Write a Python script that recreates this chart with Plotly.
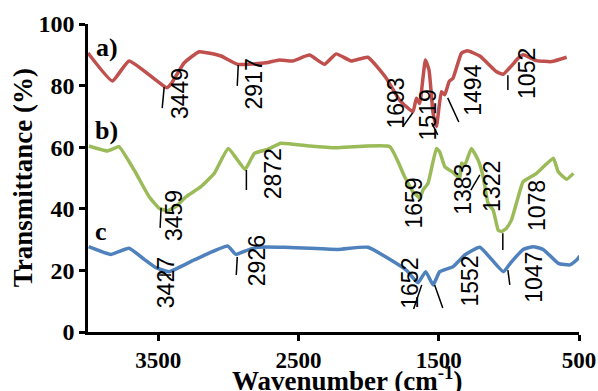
import plotly.graph_objects as go

# ---- data ----
wn_a = [4000, 3826, 3707, 3438, 3405, 3314, 3207, 3052, 2933, 2731, 2636, 2541, 2421, 2314, 2231, 2124, 2005,
        1874, 1779, 1684, 1659, 1636, 1595, 1569, 1540, 1516, 1481, 1457, 1426, 1398, 1338, 1295, 1207, 1088,
        1040, 933, 898, 802, 695, 588]
tr_a = [90.6, 81.5, 88, 79.3, 80.7, 87.4, 91, 89.6, 86.9, 87.4, 88.3, 88, 89.9, 86.9, 90.3, 88, 89.2,
        82.4, 75.3, 71.5, 75.9, 74.2, 88.3, 85, 71, 66.7, 78, 77, 81.3, 82.4, 90.5, 91.3, 89.6, 84.5,
        83.7, 88.9, 90, 88.1, 87.8, 89.2]

wn_b = [3993, 3862, 3814, 3779, 3671, 3564, 3493, 3434, 3374, 3302, 3195, 3100, 3000, 2881, 2814, 2719, 2624,
        2421, 2231, 1850, 1743, 1684, 1659, 1636, 1612, 1576, 1516, 1493, 1457, 1398, 1350, 1338, 1314, 1267,
        1219, 1183, 1148, 1112, 1076, 1052, 1017, 981, 933, 898, 802, 683, 648, 588, 540]
tr_b = [60.4, 58.8, 59.6, 60.2, 52.6, 43.9, 40.2, 39.4, 40.7, 43.9, 47.2, 51.5, 59.6, 52.8, 58, 59.3, 61.3,
        60.4, 59.8, 60.2, 50.4, 45.5, 44.5, 43.4, 46.1, 48.3, 59.6, 58.5, 53.7, 51.8, 49.9, 54.8, 54.2, 59.6,
        55.8, 50.4, 41.8, 39.6, 33.1, 32.6, 33.7, 36.4, 43.9, 48.8, 51.5, 56.4, 52, 49.6, 51.5]

wn_c = [3995, 3838, 3707, 3600, 3516, 3421, 3243, 3005, 2945, 2862, 2791, 2600, 2219, 2005, 1731, 1648, 1593,
        1540, 1493, 1398, 1314, 1207, 1040, 981, 898, 826, 755, 648, 564, 517, 495]
tr_c = [27.7, 25.2, 27.2, 23.6, 20.9, 19.6, 23.4, 27.9, 25.2, 26.6, 27.5, 27.5, 26.8, 27.5, 20.1, 16, 19.6,
        15.3, 19.6, 21.2, 25, 27.5, 19.6, 22.8, 26.8, 27.7, 26.8, 22.3, 21.8, 23.4, 24.7]

# peak labels: text, label centre (wavenumber, T)
peak_text = ["3449", "2917", "1693", "1519", "1494", "1052",
             "3459", "2872", "1659", "1383", "1322", "1078",
             "3427", "2926", "1652", "1552", "1047"]
peak_x = [3343, 2814, 1807, 1579, 1257, 871,
          3386, 2679, 1679, 1329, 1121, 800,
          3443, 2793, 1707, 1279, 821]
peak_y = [77.3, 80.5, 74.4, 70.5, 78.6, 84.1,
          37.7, 51.3, 41.9, 46.4, 47.4, 41.2,
          15.9, 23.1, 15.9, 16.6, 17.9]

# leader lines (start wn, start T, end wn, end T)
lead_x0 = [3457, 2929, 1686, 1550, 1436, 1007, 3479, 2871, 1271, 1043, 3493, 2936, 1621, 1529, 1007]
lead_y0 = [79.5, 86.7, 71.1, 67.9, 76.0, 83.4, 40.3, 52.6, 46.1, 32.1, 18.5, 24.4, 15.3, 15.3, 20.1]
lead_x1 = [3471, 2936, 1757, 1507, 1357, 1007, 3486, 2871, 1207, 1043, 3407, 2943, 1679, 1471, 993]
lead_y1 = [72.7, 79.9, 66.6, 64.0, 68.2, 78.6, 33.8, 46.1, 51.0, 26.6, 18.5, 18.5, 7.5, 7.8, 15.3]

panel_text = ["a)", "b)", "c"]
panel_x = [3868, 3868, 3907]
panel_y = [92.5, 65.3, 32.6]

x_ticks = [3500, 2500, 1500, 500]
y_ticks = [0, 20, 40, 60, 80, 100]

colors = ["#C0504D", "#9BBB59", "#4F81BD"]

fig = go.Figure()
for wn, tr, col in [(wn_a, tr_a, colors[0]), (wn_b, tr_b, colors[1]), (wn_c, tr_c, colors[2])]:
    fig.add_trace(go.Scatter(x=wn, y=tr, mode="lines",
                             line=dict(color=col, width=3.5, shape="spline", smoothing=0.4),
                             showlegend=False, hoverinfo="skip"))

lx, ly = [], []
for a, b, c, d in zip(lead_x0, lead_y0, lead_x1, lead_y1):
    lx += [a, c, None]
    ly += [b, d, None]
fig.add_trace(go.Scatter(x=lx, y=ly, mode="lines", line=dict(color="black", width=1.5),
                         showlegend=False, hoverinfo="skip"))

for t, x, y in zip(peak_text, peak_x, peak_y):
    fig.add_annotation(x=x, y=y, xref="x", yref="y", text=t, showarrow=False, textangle=-90,
                       xanchor="center", yanchor="middle",
                       font=dict(family="Liberation Sans", size=23, color="black"))

for t, x, y in zip(panel_text, panel_x, panel_y):
    fig.add_annotation(x=x, y=y, xref="x", yref="y", text=t, showarrow=False,
                       xanchor="center", yanchor="middle",
                       font=dict(family="Liberation Serif", size=26, color="black", weight="bold"))

fig.add_annotation(x=0.527, y=-0.154, xref="paper", yref="paper", text="Wavenumber (cm<sup>-1</sup>)",
                   showarrow=False, xanchor="center", yanchor="middle",
                   font=dict(family="Liberation Serif", size=27, color="black", weight="bold"))
fig.add_annotation(x=-0.132, y=0.5, xref="paper", yref="paper", text="Transmittance (%)",
                   showarrow=False, textangle=-90, xanchor="center", yanchor="middle",
                   font=dict(family="Liberation Serif", size=27, color="black", weight="bold"))

fig.update_xaxes(range=[4000, 500], tickvals=x_ticks, ticks="outside", ticklen=6, tickwidth=2.5,
                 tickcolor="black", showline=True, linewidth=2.5, linecolor="black", showgrid=False,
                 zeroline=False, automargin=False,
                 tickfont=dict(family="Liberation Serif", size=23, color="black", weight="bold"))
fig.update_yaxes(range=[0, 100], tickvals=y_ticks, ticks="outside", ticklen=6, tickwidth=2.5,
                 tickcolor="black", showline=True, linewidth=2.5, linecolor="black", showgrid=False,
                 zeroline=False, automargin=False,
                 tickfont=dict(family="Liberation Serif", size=24, color="black", weight="bold"))

fig.update_layout(width=598, height=391, margin=dict(l=88, r=19, t=24, b=59, autoexpand=False),
                  plot_bgcolor="white", paper_bgcolor="white")

fig.write_html("out.html")
